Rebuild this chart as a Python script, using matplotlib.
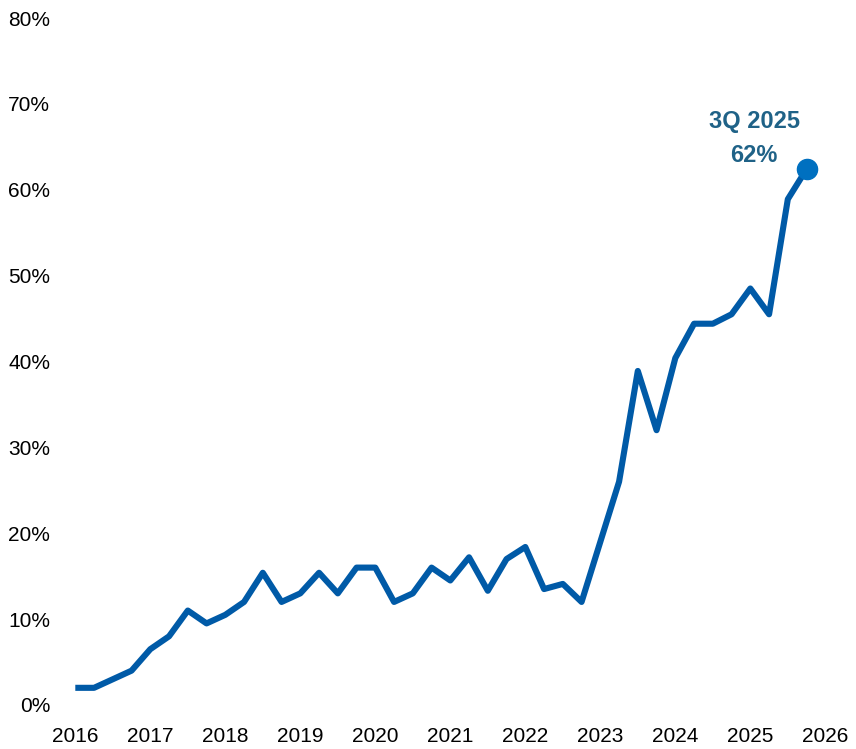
import matplotlib
matplotlib.use('Agg')
import matplotlib.pyplot as plt

plt.rcParams['font.family'] = ['Liberation Sans', 'DejaVu Sans']

# quarterly share (%), 4Q 2015 - 3Q 2025
quarter_labels = ['4Q 2015'] + ['{}Q {}'.format(q, y) for y in range(2016, 2025) for q in (1, 2, 3, 4)] \
    + ['1Q 2025', '2Q 2025', '3Q 2025']
share = [
    2.0,
    2.0, 3.0, 4.0, 6.5,
    8.0, 11.0, 9.5, 10.5,
    12.0, 15.4, 12.0, 13.0,
    15.4, 13.0, 16.0, 16.0,
    12.0, 13.0, 16.0, 14.5,
    17.2, 13.3, 17.0, 18.4,
    13.5, 14.1, 12.0, 19.0,
    26.0, 38.9, 32.0, 40.4,
    44.4, 44.4, 45.5, 48.5,
    45.5, 58.9, 62.4,
]
x_labels = ['2016', '2017', '2018', '2019', '2020', '2021',
            '2022', '2023', '2024', '2025', '2026']
last_label = '3Q 2025\n62%'

# place each quarter at its quarter-end date (decimal year)
x = []
for lab in quarter_labels:
    q, y = lab.split('Q ')
    x.append(int(y) + int(q) * 0.25)

fig = plt.figure(figsize=(8.56, 7.49), dpi=100)
ax = fig.add_axes([60 / 856, 44 / 749, 790 / 856, 687 / 749])

ax.plot(x, share, color='#005AA7', linewidth=4.4,
        solid_capstyle='butt', solid_joinstyle='round', clip_on=False)
ax.plot(x[-1], share[-1], 'o', color='#0070C0', markersize=14.5,
        clip_on=False, zorder=5)
ax.text(x[-1] - 0.7, 66.0, last_label, ha='center', va='center',
        fontsize=17, fontweight='bold', color='#1F6287', linespacing=1.6)

ax.set_ylim(0, 80)
ax.set_yticks(range(0, 81, 10))
ax.set_yticklabels(['{}%'.format(v) for v in range(0, 81, 10)])
ax.set_xlim(2015.796, 2026.329)
ax.set_xticks([int(s) for s in x_labels])
ax.set_xticklabels(x_labels)

ax.tick_params(axis='both', length=0, labelsize=15, colors='black')
ax.tick_params(axis='x', pad=15.5)
ax.tick_params(axis='y', pad=7)
for s in ax.spines.values():
    s.set_visible(False)

fig.savefig('out.png', dpi=100)
